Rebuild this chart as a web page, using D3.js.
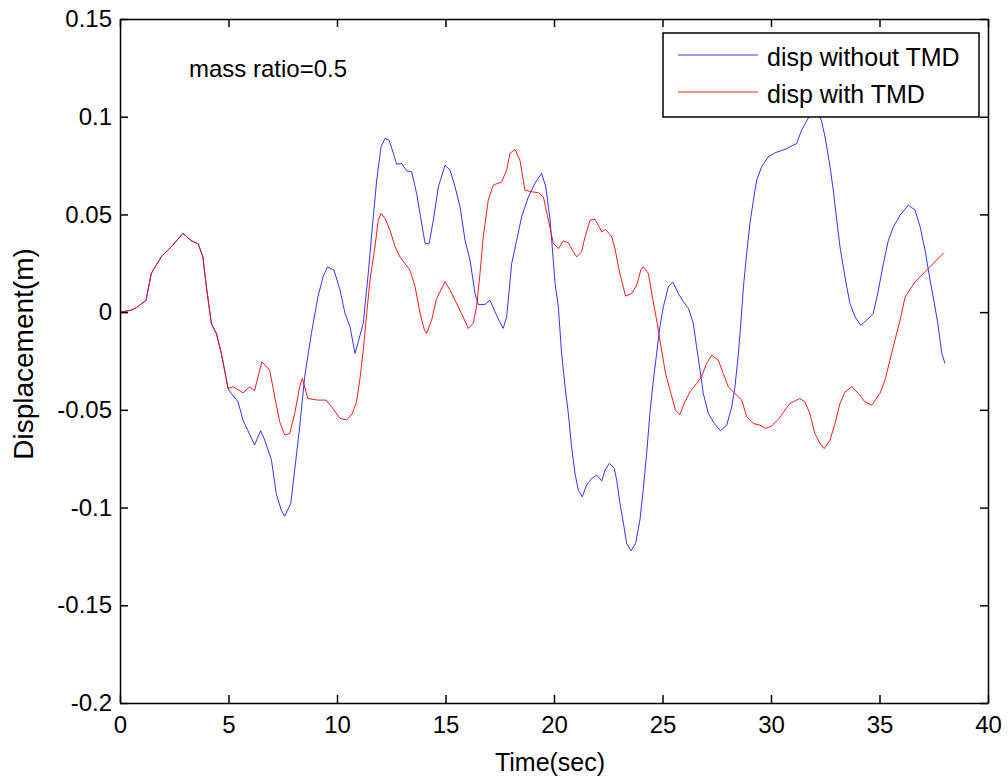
<!DOCTYPE html>
<html>
<head>
<meta charset="utf-8">
<script src="https://cdn.jsdelivr.net/npm/d3@7"></script>
<style>
  body { margin: 0; background: #fff; }
  text { font-family: Arial, "Liberation Sans", sans-serif; fill: #000; }
</style>
</head>
<body>
<div id="chart-area"></div>
<script>
// time (sec) and displacement (m)
var timeWithout = [0,0.52,0.75,1.2,1.44,1.9,2.36,2.9,3.29,3.6,3.82,3.98,4.21,4.44,4.67,4.82,4.98,
  5.13,5.44,5.67,5.98,6.2,6.48,6.67,6.98,7.2,7.43,7.59,7.87,8.05,8.28,8.51,8.82,9.12,9.36,9.56,9.86,
  10.14,10.37,10.6,10.83,10.98,11.21,11.44,11.63,11.83,12.03,12.21,12.4,12.6,12.75,12.98,13.21,13.44,
  13.67,13.9,14.06,14.24,14.44,14.67,14.98,15.21,15.44,15.67,15.9,16.13,16.36,16.51,16.82,17.05,17.28,
  17.46,17.66,17.82,18.05,18.28,18.51,18.82,19.12,19.43,19.62,19.82,20.05,20.2,20.35,20.51,20.66,20.81,
  20.97,21.12,21.3,21.5,21.74,21.97,22.2,22.35,22.55,22.78,22.89,23.04,23.2,23.35,23.55,23.76,23.96,
  24.11,24.27,24.42,24.58,24.73,24.88,25.04,25.27,25.47,25.73,25.96,26.2,26.42,26.57,26.73,26.88,27.11,
  27.39,27.68,27.96,28.19,28.34,28.5,28.62,28.73,28.88,29.03,29.19,29.34,29.57,29.88,30.18,30.65,31.18,
  31.41,31.64,31.9,32.1,32.33,32.49,32.72,32.87,33.03,33.18,33.33,33.49,33.64,33.87,34.14,34.41,34.71,
  34.95,35.18,35.41,35.64,35.95,36.33,36.64,36.87,37.1,37.33,37.53,37.71,37.87,38.02];
var dispWithout = [0,0.001,0.0023,0.006,0.0198,0.0283,0.0334,0.0403,0.0365,0.035,0.0283,0.013,-0.0058,
  -0.0109,-0.0211,-0.0297,-0.0391,
  -0.0416,-0.0459,-0.0553,-0.0627,-0.068,-0.0607,-0.0655,-0.0757,-0.0928,-0.1013,-0.1044,-0.0979,-0.0809,
  -0.0587,-0.0331,-0.0109,0.0078,0.0181,0.0232,0.0215,
  0.0113,-0.0007,-0.0075,-0.0211,-0.0152,-0.0058,0.0198,0.0437,0.0676,0.0846,0.0889,0.088,0.0812,0.0757,
  0.0761,0.0723,0.0718,0.0607,0.0454,0.0352,0.0349,0.0471,0.0641,0.0752,0.0727,0.0641,0.0539,0.0368,
  0.0266,0.0096,0.0039,0.0039,0.0061,0.0002,-0.0041,-0.0083,-0.0024,0.0249,0.0368,0.0488,0.059,0.0659,
  0.071,0.0641,0.0471,0.0147,0.0027,-0.0211,-0.0382,-0.0518,-0.0689,-0.0826,-0.0911,-0.0945,-0.0885,
  -0.0851,-0.0834,-0.0863,-0.0809,-0.0774,-0.08,-0.086,-0.0979,-0.1081,-0.1184,-0.1221,-0.1184,-0.1064,
  -0.0911,-0.0723,-0.0518,-0.0348,-0.0211,-0.0075,0.0027,0.013,0.0155,0.0096,0.0053,0.0019,-0.0058,
  -0.0177,-0.0297,-0.0416,-0.0518,-0.057,-0.0607,-0.0578,-0.0485,-0.0382,-0.0211,-0.0041,0.013,0.03,
  0.0454,0.0573,0.0676,0.0744,0.0795,0.0815,0.0833,0.0863,0.0931,0.0977,0.103,0.105,0.0977,0.0897,
  0.0744,0.0624,0.0471,0.0334,0.0232,0.013,0.0044,-0.0024,-0.0067,-0.0041,-0.0007,0.0113,0.0249,0.0368,
  0.0437,0.0496,0.0548,0.0522,0.0437,0.0317,0.0164,0.0044,-0.0075,-0.0211,-0.0263];

var timeWith = [0,0.52,0.75,1.2,1.44,1.9,2.36,2.9,3.29,3.6,3.82,3.98,4.21,4.44,4.67,4.82,4.98,
  5.21,5.67,5.98,6.2,6.36,6.54,6.9,7.13,7.36,7.59,7.82,8.05,8.28,8.4,8.66,9.12,9.5,9.81,10.14,10.45,
  10.7,10.9,11.06,11.21,11.37,11.52,11.75,11.9,12.03,12.21,12.44,12.68,12.9,13.13,13.36,13.6,13.83,
  14.03,14.13,14.36,14.59,14.98,15.21,15.44,15.74,16.05,16.28,16.44,16.59,16.74,16.97,17.2,17.59,17.82,
  17.97,18.2,18.43,18.66,18.97,19.28,19.51,19.74,19.97,20.2,20.43,20.66,20.89,21.05,21.27,21.43,21.66,
  21.89,22.2,22.38,22.66,22.81,23.0,23.19,23.3,23.58,23.81,24.01,24.11,24.35,24.53,24.73,24.93,25.14,
  25.39,25.6,25.8,26.03,26.27,26.57,26.8,27.03,27.27,27.57,27.8,28.03,28.34,28.65,28.88,29.19,29.49,
  29.75,30.03,30.37,30.87,31.33,31.56,31.79,32.02,32.26,32.45,32.72,32.95,33.18,33.41,33.72,34.03,
  34.33,34.64,35.02,35.25,35.48,35.71,35.95,36.18,36.49,36.64,37.25,37.97];
var dispWith = [0,0.001,0.0023,0.006,0.0198,0.0283,0.0334,0.0403,0.0365,0.035,0.0283,0.013,-0.0058,
  -0.0109,-0.0211,-0.0297,-0.0391,
  -0.0382,-0.0413,-0.0382,-0.0402,-0.0331,-0.0254,-0.0297,-0.0433,-0.0561,-0.0629,-0.0621,-0.0519,
  -0.0382,-0.0339,-0.0442,-0.045,-0.045,-0.0493,-0.0544,-0.0552,-0.052,-0.046,-0.0339,-0.0194,-0.0007,
  0.0164,0.0334,0.0471,0.0505,0.048,0.042,0.0334,0.0283,0.0249,0.0215,0.013,-0.0007,-0.0092,-0.0109,
  -0.0041,0.007,0.0155,0.0113,0.0061,-0.0007,-0.0083,-0.0058,0.0036,0.0198,0.0385,0.0573,0.065,0.0667,
  0.0727,0.0812,0.0833,0.0778,0.0624,0.0616,0.0611,0.059,0.0471,0.0352,0.0325,0.0365,0.0355,0.0309,
  0.0283,0.0309,0.0385,0.0471,0.0474,0.0411,0.0423,0.0385,0.0325,0.0215,0.013,0.0082,0.0096,0.0138,
  0.0218,0.0232,0.0198,0.0079,-0.0041,-0.0177,-0.0314,-0.0416,-0.0502,-0.0524,-0.0459,-0.0408,-0.0365,
  -0.0331,-0.0263,-0.022,-0.0246,-0.0314,-0.0382,-0.0416,-0.045,-0.0536,-0.057,-0.0578,-0.0595,-0.0583,
  -0.0544,-0.0467,-0.0442,-0.0459,-0.0518,-0.0621,-0.0672,-0.0698,-0.0655,-0.057,-0.0467,-0.0408,
  -0.0382,-0.0416,-0.0459,-0.0476,-0.0416,-0.0348,-0.0246,-0.0143,-0.0041,0.0078,0.013,0.0155,0.0224,
  0.0304];

var xTicks = [0, 5, 10, 15, 20, 25, 30, 35, 40];
var yTicks = [-0.2, -0.15, -0.1, -0.05, 0, 0.05, 0.1, 0.15];
var seriesNames = ["disp without TMD", "disp with TMD"];
var seriesColors = ["#0000ff", "#ff0000"];

var svgWidth = 1008, svgHeight = 780;
var plotLeft = 120, plotRight = 988, plotTop = 19, plotBottom = 703;
var fontSize = 24;

var svg = d3.select("#chart-area").append("svg")
    .attr("width", svgWidth)
    .attr("height", svgHeight);

var x = d3.scaleLinear().domain([0, 40]).range([plotLeft, plotRight]);
var y = d3.scaleLinear().domain([-0.2, 0.15]).range([plotBottom, plotTop]);

function tickFmt(d) {
    return d === 0 ? "0" : String(+d.toFixed(2));
}

// data lines
var line = d3.line()
    .x(function(d) { return x(d[0]); })
    .y(function(d) { return y(d[1]); });

var blueData = d3.zip(timeWithout, dispWithout);
var redData = d3.zip(timeWith, dispWith);

svg.append("path")
    .datum(blueData)
    .attr("d", line)
    .attr("fill", "none")
    .attr("stroke", seriesColors[0])
    .attr("stroke-opacity", 0.8)
    .attr("stroke-width", 1);

svg.append("path")
    .datum(redData)
    .attr("d", line)
    .attr("fill", "none")
    .attr("stroke", seriesColors[1])
    .attr("stroke-opacity", 0.9)
    .attr("stroke-width", 1);

// axes, ticks pointing inwards on every side
var tickLen = 8;
var axes = [
    { gen: d3.axisBottom(x).tickValues(xTicks).tickFormat(d3.format("d")), tr: "translate(0," + plotBottom + ")", pad: 13 },
    { gen: d3.axisTop(x).tickValues(xTicks).tickFormat(""), tr: "translate(0," + plotTop + ")", pad: 8 },
    { gen: d3.axisLeft(y).tickValues(yTicks).tickFormat(tickFmt), tr: "translate(" + plotLeft + ",0)", pad: 8 },
    { gen: d3.axisRight(y).tickValues(yTicks).tickFormat(""), tr: "translate(" + plotRight + ",0)", pad: 8 }
];

axes.forEach(function(a) {
    a.gen.tickSizeInner(-tickLen).tickSizeOuter(0).tickPadding(a.pad);
    var g = svg.append("g")
        .attr("transform", a.tr)
        .style("font-size", fontSize + "px")
        .style("font-family", "Arial, 'Liberation Sans', sans-serif")
        .call(a.gen);
    g.select(".domain").attr("stroke", "#000").attr("stroke-width", 1.5);
    g.selectAll(".tick line").attr("stroke", "#000").attr("stroke-width", 1.5);
    g.selectAll(".tick text").attr("fill", "#000");
});

// axis labels
svg.append("text")
    .attr("x", 550)
    .attr("y", 771)
    .attr("text-anchor", "middle")
    .style("font-size", "25px")
    .text("Time(sec)");

svg.append("text")
    .attr("transform", "translate(33,354) rotate(-90)")
    .attr("text-anchor", "middle")
    .style("font-size", "28px")
    .text("Displacement(m)");

svg.append("text")
    .attr("x", 189)
    .attr("y", 77)
    .style("font-size", fontSize + "px")
    .text("mass ratio=0.5");

// legend
var legend = svg.append("g");
legend.append("rect")
    .attr("x", 663)
    .attr("y", 33)
    .attr("width", 316)
    .attr("height", 84)
    .attr("fill", "#fff")
    .attr("stroke", "#000")
    .attr("stroke-width", 1.5);

seriesNames.forEach(function(name, i) {
    var rowY = 60 + i * 37;
    legend.append("line")
        .attr("x1", 678).attr("x2", 758)
        .attr("y1", rowY - 5).attr("y2", rowY - 5)
        .attr("stroke", seriesColors[i])
        .attr("stroke-opacity", i === 0 ? 0.8 : 0.9)
        .attr("stroke-width", 1);
    legend.append("text")
        .attr("x", 767)
        .attr("y", rowY + 6)
        .style("font-size", "25px")
        .text(name);
});
</script>
</body>
</html>
